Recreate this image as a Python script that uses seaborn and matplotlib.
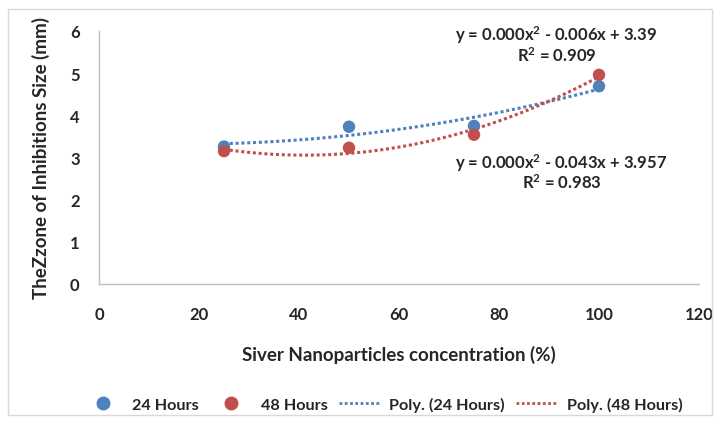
import numpy as np
import pandas as pd
import matplotlib
matplotlib.use("Agg")
import matplotlib.pyplot as plt
import seaborn as sns
from matplotlib.lines import Line2D
from matplotlib.patches import Rectangle

concentration = [25, 50, 75, 100]
hours24 = [3.26, 3.73, 3.75, 4.69]
hours48 = [3.15, 3.23, 3.54, 4.96]
series_names = ["24 Hours", "48 Hours"]
eq24 = ["y = 0.000x$^2$ - 0.006x + 3.39", "R$^2$ = 0.909"]
eq48 = ["y = 0.000x$^2$ - 0.043x + 3.957", "R$^2$ = 0.983"]
x_ticks = [0, 20, 40, 60, 80, 100, 120]
y_ticks = [0, 1, 2, 3, 4, 5, 6]

sns.set_style("white")
plt.rcParams['font.family'] = ['Lato', 'DejaVu Sans']
plt.rcParams['font.weight'] = 'bold'
plt.rcParams['mathtext.fontset'] = 'custom'
plt.rcParams['mathtext.rm'] = 'Lato:bold'
plt.rcParams['mathtext.default'] = 'rm'

blue = "#4F81BD"
red = "#C0504D"
FS = 12

df = pd.DataFrame({
    "conc": concentration * 2,
    "val": hours24 + hours48,
    "series": [series_names[0]] * 4 + [series_names[1]] * 4,
})

fig = plt.figure(figsize=(7.14, 4.27), dpi=100)
ax = fig.add_axes([99/714, 1 - 285/427, (699-99)/714, (285-32)/427])

dotted = (0, (1, 0.9))
for name, col in zip(series_names, [blue, red]):
    sub = df[df.series == name]
    sns.regplot(data=sub, x="conc", y="val", order=2, ci=None, scatter=False,
                truncate=True, ax=ax,
                line_kws=dict(color=col, lw=2.2, linestyle=dotted,
                              dash_capstyle='butt'))
sns.scatterplot(data=df, x="conc", y="val", hue="series",
                palette=[blue, red], s=80, edgecolor='none', ax=ax,
                legend=False, zorder=5)

ax.set_xlim(0, 120)
ax.set_ylim(0, 6)
ax.set_xticks(x_ticks)
ax.set_yticks(y_ticks)
ax.tick_params(axis='both', length=0, labelsize=FS)
ax.tick_params(axis='x', pad=16)
ax.tick_params(axis='y', pad=14)
for lab in ax.get_xticklabels() + ax.get_yticklabels():
    lab.set_fontweight('bold')
for s in ['top', 'right']:
    ax.spines[s].set_visible(False)
for s in ['left', 'bottom']:
    ax.spines[s].set_color('#BFBFBF')
    ax.spines[s].set_linewidth(1.0)

ax.set_xlabel("Siver Nanoparticles concentration (%)", fontsize=13.5,
              fontweight='bold', labelpad=16)
ax.set_ylabel("TheZzone of Inhibitions Size (mm)", fontsize=13.5,
              fontweight='bold', labelpad=14)

ax.text(91.5, 5.92, eq24[0], ha='center', va='center', fontsize=FS, fontweight='bold')
ax.text(91.5, 5.45, eq24[1], ha='center', va='center', fontsize=FS, fontweight='bold')
ax.text(92.5, 2.89, eq48[0], ha='center', va='center', fontsize=FS, fontweight='bold')
ax.text(92.5, 2.42, eq48[1], ha='center', va='center', fontsize=FS, fontweight='bold')

handles = [
    Line2D([], [], marker='o', color=blue, linestyle='none', markersize=9),
    Line2D([], [], marker='o', color=red, linestyle='none', markersize=9),
    Line2D([], [], color=blue, lw=2, linestyle=dotted),
    Line2D([], [], color=red, lw=2, linestyle=dotted),
]
labels = ["24 Hours", "48 Hours", "Poly. (24 Hours)", "Poly. (48 Hours)"]
fig.legend(handles, labels, loc='center', bbox_to_anchor=(382/714, 1 - 405/427),
           ncol=4, frameon=False, handlelength=2.6,
           columnspacing=0.7, handletextpad=0.5,
           prop=dict(weight='bold', size=11.7))

fig.patches.append(Rectangle((8/714, 1 - 416/427), (712-8)/714, (416-10)/427,
                             transform=fig.transFigure, fill=False,
                             edgecolor='#D9D9D9', lw=1.0))

fig.savefig("out.png", dpi=100)
